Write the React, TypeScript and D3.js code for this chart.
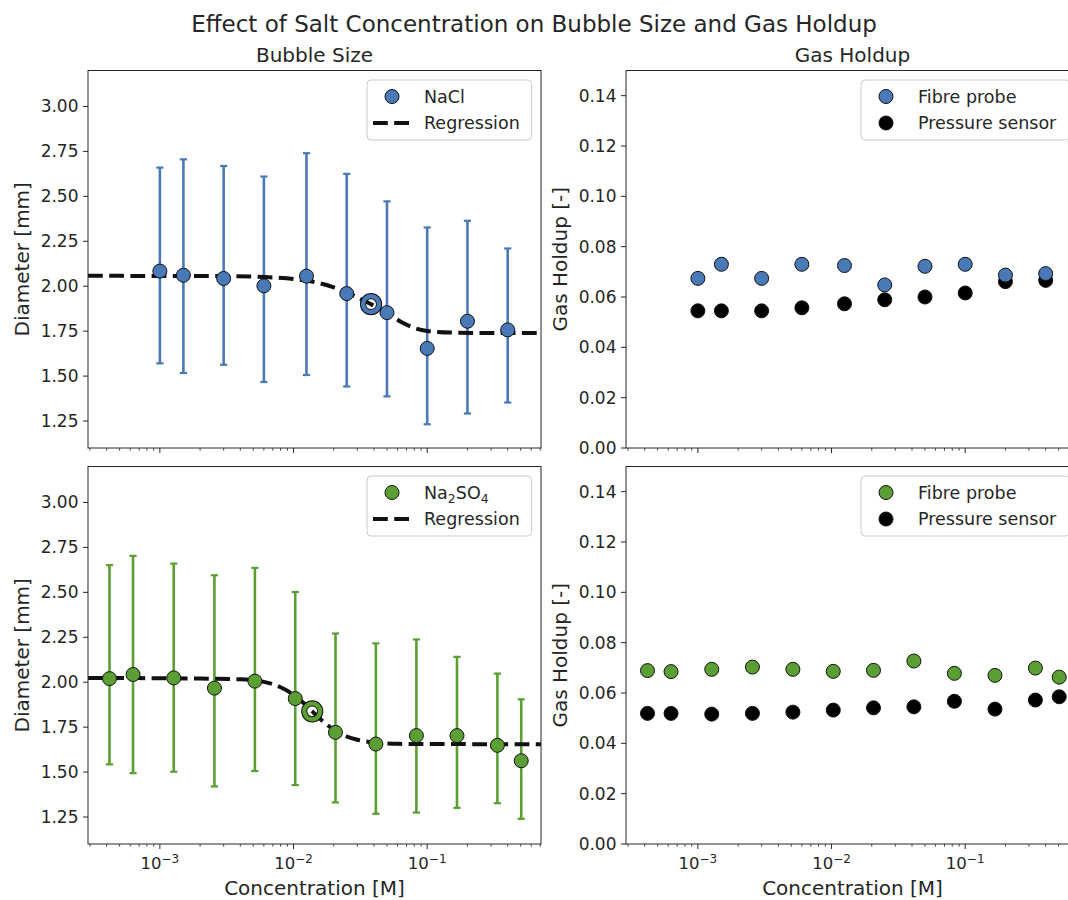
import React from "react";
import * as d3 from "d3";

const FONT = "DejaVu Sans, Liberation Sans, sans-serif";
const BLUE = "#4a79b8";
const GREEN = "#5b9e33";
const EDGE = "#111111";
const INK = "#262626";

// ---- NaCl: bubble diameter (mm) with asymmetric spread ----
const naclConc = [0.001, 0.0015, 0.003, 0.006, 0.0125, 0.025, 0.05, 0.1, 0.2, 0.4];
const naclDiameter = [2.084, 2.061, 2.043, 2.002, 2.056, 1.959, 1.853, 1.654, 1.805, 1.757];
const naclUpper = [2.66, 2.706, 2.669, 2.61, 2.74, 2.625, 2.472, 2.327, 2.364, 2.21];
const naclLower = [1.571, 1.517, 1.563, 1.467, 1.506, 1.442, 1.387, 1.232, 1.292, 1.353];
// fitted regression curve and its transition point
const naclFitConc = [0.00029, 0.001, 0.003, 0.006, 0.01, 0.015, 0.02, 0.025, 0.03, 0.038, 0.05, 0.065, 0.08, 0.1, 0.15, 0.3, 0.71];
const naclFitDiam = [2.058, 2.057, 2.056, 2.051, 2.04, 2.02, 1.994, 1.966, 1.938, 1.9, 1.853, 1.798, 1.768, 1.751, 1.742, 1.74, 1.74];
const naclTransition = [0.038, 1.9];
// ---- NaCl: gas holdup ----
const naclFibre = [0.0674, 0.073, 0.0674, 0.073, 0.0725, 0.0648, 0.0722, 0.073, 0.0687, 0.0693];
const naclPressure = [0.0545, 0.0545, 0.0545, 0.0557, 0.0573, 0.0589, 0.06, 0.0616, 0.0661, 0.0666];

// ---- Na2SO4: bubble diameter (mm) ----
const sulfConc = [0.00042, 0.00063, 0.00127, 0.00256, 0.00514, 0.0103, 0.0206, 0.0413, 0.083, 0.167, 0.335, 0.505];
const sulfDiameter = [2.02, 2.043, 2.024, 1.967, 2.006, 1.909, 1.721, 1.656, 1.703, 1.703, 1.649, 1.563];
const sulfUpper = [2.651, 2.703, 2.66, 2.595, 2.636, 2.502, 2.271, 2.216, 2.238, 2.141, 2.048, 1.905];
const sulfLower = [1.543, 1.494, 1.502, 1.42, 1.506, 1.428, 1.331, 1.268, 1.275, 1.301, 1.327, 1.24];
const sulfFitConc = [0.00029, 0.001, 0.002, 0.004, 0.006, 0.008, 0.01, 0.012, 0.0138, 0.016, 0.02, 0.025, 0.03, 0.04, 0.06, 0.71];
const sulfFitDiam = [2.024, 2.022, 2.02, 2.016, 2.002, 1.972, 1.93, 1.881, 1.838, 1.793, 1.736, 1.698, 1.68, 1.665, 1.657, 1.655];
const sulfTransition = [0.0138, 1.838];
// ---- Na2SO4: gas holdup ----
const sulfFibre = [0.0689, 0.0685, 0.0694, 0.0703, 0.0694, 0.0686, 0.069, 0.0727, 0.0678, 0.067, 0.0699, 0.0663];
const sulfPressure = [0.0519, 0.0519, 0.0516, 0.0519, 0.0524, 0.0532, 0.0541, 0.0545, 0.0567, 0.0536, 0.0572, 0.0585];

// ---- axes ----
const X_DOMAIN: [number, number] = [2.9e-4, 0.71];
const DIAM_DOMAIN: [number, number] = [1.1, 3.2];
const HOLDUP_DOMAIN: [number, number] = [0, 0.15];
const diamTicks = [1.25, 1.5, 1.75, 2.0, 2.25, 2.5, 2.75, 3.0];
const holdupTicks = [0, 0.02, 0.04, 0.06, 0.08, 0.1, 0.12, 0.14];

const PANEL_W = 453;
const PANEL_H = 377.5;
const COL_X = [88, 626];
const ROW_Y = [70.5, 466.5];

const xScale = d3.scaleLog().domain(X_DOMAIN).range([0, PANEL_W]);
const diamScale = d3.scaleLinear().domain(DIAM_DOMAIN).range([PANEL_H, 0]);
const holdupScale = d3.scaleLinear().domain(HOLDUP_DOMAIN).range([PANEL_H, 0]);

const isDecade = (t: number) => Math.abs(Math.log10(t) - Math.round(Math.log10(t))) < 1e-9;

function Axes({ left, top, yScale, yTicks, yFormat, yLabel, title, showXLabels, children }: any) {
  const xTicks = xScale.ticks();
  return (
    <g transform={`translate(${left},${top})`} fontFamily={FONT}>
      {children}
      <rect x={0} y={0} width={PANEL_W} height={PANEL_H} fill="none" stroke={INK} strokeWidth={1} />
      {xTicks.map((t: number, i: number) => {
        const major = isDecade(t);
        const x = xScale(t);
        return (
          <g key={i}>
            <line x1={x} x2={x} y1={PANEL_H} y2={PANEL_H + (major ? 5 : 2.8)} stroke={INK} strokeWidth={major ? 1 : 0.8} />
            {major && showXLabels && (
              <text x={x} y={PANEL_H + 25} textAnchor="middle" fontSize={16.5} fill={INK}>
                10
                <tspan dy={-6.5} fontSize={12}>
                  {"\u2212" + Math.abs(Math.round(Math.log10(t)))}
                </tspan>
              </text>
            )}
          </g>
        );
      })}
      {yTicks.map((t: number, i: number) => (
        <g key={i} transform={`translate(0,${yScale(t)})`}>
          <line x1={-5} x2={0} stroke={INK} strokeWidth={1} />
          <text x={-9.5} dy="0.35em" textAnchor="end" fontSize={17} fill={INK}>
            {yFormat(t)}
          </text>
        </g>
      ))}
      <text transform={`translate(-59,${PANEL_H / 2}) rotate(-90)`} textAnchor="middle" fontSize={20} fill={INK}>
        {yLabel}
      </text>
      {title && (
        <text x={PANEL_W / 2} y={-9} textAnchor="middle" fontSize={20} fill={INK}>
          {title}
        </text>
      )}
      {showXLabels && (
        <text x={PANEL_W / 2} y={PANEL_H + 51} textAnchor="middle" fontSize={20} fill={INK}>
          Concentration [M]
        </text>
      )}
    </g>
  );
}

function Legend({ right, top, width, rows }: any) {
  const x = right - width;
  return (
    <g fontFamily={FONT}>
      <rect x={x} y={top} width={width} height={60} rx={4} fill="#ffffff" fillOpacity={0.85} stroke="#cccccc" strokeWidth={1} />
      {rows.map((r: any, i: number) => {
        const cy = top + 16.5 + i * 26.5;
        return (
          <g key={i}>
            {r.kind === "marker" ? (
              <circle cx={x + 25} cy={cy} r={7} fill={r.color} stroke={EDGE} strokeWidth={1} />
            ) : (
              <line x1={x + 6} x2={x + 42} y1={cy} y2={cy} stroke="#111" strokeWidth={4} strokeDasharray="14.8 6.4" />
            )}
            <text x={x + 57} y={cy} dy="0.36em" fontSize={17.5} fill={INK}>
              {r.label}
            </text>
          </g>
        );
      })}
    </g>
  );
}

function DiameterMarks({ conc, diam, upper, lower, fitConc, fitDiam, transition, color }: any) {
  const fitLine = d3
    .line<number>()
    .x((_, i) => xScale(fitConc[i]))
    .y((d) => diamScale(d))
    .curve(d3.curveMonotoneX);
  return (
    <g>
      {conc.map((c: number, i: number) => {
        const x = xScale(c);
        return (
          <g key={i} stroke={color}>
            <line x1={x} x2={x} y1={diamScale(lower[i])} y2={diamScale(upper[i])} strokeWidth={2.6} />
            <line x1={x - 3.6} x2={x + 3.6} y1={diamScale(lower[i])} y2={diamScale(lower[i])} strokeWidth={2.2} />
            <line x1={x - 3.6} x2={x + 3.6} y1={diamScale(upper[i])} y2={diamScale(upper[i])} strokeWidth={2.2} />
          </g>
        );
      })}
      <path d={fitLine(fitDiam) || ""} fill="none" stroke="#111" strokeWidth={4} strokeDasharray="14.8 6.4" />
      {conc.map((c: number, i: number) => (
        <circle key={i} cx={xScale(c)} cy={diamScale(diam[i])} r={7} fill={color} stroke={EDGE} strokeWidth={1} />
      ))}
      {/* open ring marking the transition concentration of the fit */}
      <g transform={`translate(${xScale(transition[0])},${diamScale(transition[1])})`} fill="none">
        <circle r={8} stroke={EDGE} strokeWidth={6.2} />
        <circle r={8} stroke={color} strokeWidth={4.3} />
      </g>
    </g>
  );
}

function HoldupMarks({ conc, fibre, pressure, color }: any) {
  return (
    <g>
      {conc.map((c: number, i: number) => (
        <circle key={"p" + i} cx={xScale(c)} cy={holdupScale(pressure[i])} r={7} fill="#000" stroke={EDGE} strokeWidth={1} />
      ))}
      {conc.map((c: number, i: number) => (
        <circle key={"f" + i} cx={xScale(c)} cy={holdupScale(fibre[i])} r={7} fill={color} stroke={EDGE} strokeWidth={1} />
      ))}
    </g>
  );
}

const fmtDiam = d3.format(".2f");
const fmtHold = d3.format(".2f");

export default function App() {
  const sub = (s: string) => (
    <tspan dy={4} fontSize={12.5}>
      {s}
    </tspan>
  );
  const sulfLabel = (
    <>
      Na{sub("2")}
      <tspan dy={-4}>SO</tspan>
      {sub("4")}
    </>
  );
  return (
    <svg width={1068} height={900} style={{ position: "absolute", left: 0, top: 0, background: "#fff" }}>
      <rect width={1068} height={900} fill="#fff" />
      <text x={534} y={31.5} textAnchor="middle" fontFamily={FONT} fontSize={23} fill={INK}>
        Effect of Salt Concentration on Bubble Size and Gas Holdup
      </text>

      <Axes left={COL_X[0]} top={ROW_Y[0]} yScale={diamScale} yTicks={diamTicks} yFormat={fmtDiam} yLabel="Diameter [mm]" title="Bubble Size" showXLabels={false}>
        <DiameterMarks conc={naclConc} diam={naclDiameter} upper={naclUpper} lower={naclLower} fitConc={naclFitConc} fitDiam={naclFitDiam} transition={naclTransition} color={BLUE} />
      </Axes>
      <Axes left={COL_X[1]} top={ROW_Y[0]} yScale={holdupScale} yTicks={holdupTicks} yFormat={fmtHold} yLabel="Gas Holdup [-]" title="Gas Holdup" showXLabels={false}>
        <HoldupMarks conc={naclConc} fibre={naclFibre} pressure={naclPressure} color={BLUE} />
      </Axes>
      <Axes left={COL_X[0]} top={ROW_Y[1]} yScale={diamScale} yTicks={diamTicks} yFormat={fmtDiam} yLabel="Diameter [mm]" showXLabels={true}>
        <DiameterMarks conc={sulfConc} diam={sulfDiameter} upper={sulfUpper} lower={sulfLower} fitConc={sulfFitConc} fitDiam={sulfFitDiam} transition={sulfTransition} color={GREEN} />
      </Axes>
      <Axes left={COL_X[1]} top={ROW_Y[1]} yScale={holdupScale} yTicks={holdupTicks} yFormat={fmtHold} yLabel="Gas Holdup [-]" showXLabels={true}>
        <HoldupMarks conc={sulfConc} fibre={sulfFibre} pressure={sulfPressure} color={GREEN} />
      </Axes>

      <Legend right={COL_X[0] + PANEL_W - 9.5} top={ROW_Y[0] + 9.5} width={164.5} rows={[
        { kind: "marker", color: BLUE, label: "NaCl" },
        { kind: "line", label: "Regression" },
      ]} />
      <Legend right={COL_X[1] + PANEL_W - 9.5} top={ROW_Y[0] + 9.5} width={208.5} rows={[
        { kind: "marker", color: BLUE, label: "Fibre probe" },
        { kind: "marker", color: "#000", label: "Pressure sensor" },
      ]} />
      <Legend right={COL_X[0] + PANEL_W - 9.5} top={ROW_Y[1] + 9.5} width={164.5} rows={[
        { kind: "marker", color: GREEN, label: sulfLabel },
        { kind: "line", label: "Regression" },
      ]} />
      <Legend right={COL_X[1] + PANEL_W - 9.5} top={ROW_Y[1] + 9.5} width={208.5} rows={[
        { kind: "marker", color: GREEN, label: "Fibre probe" },
        { kind: "marker", color: "#000", label: "Pressure sensor" },
      ]} />
    </svg>
  );
}
